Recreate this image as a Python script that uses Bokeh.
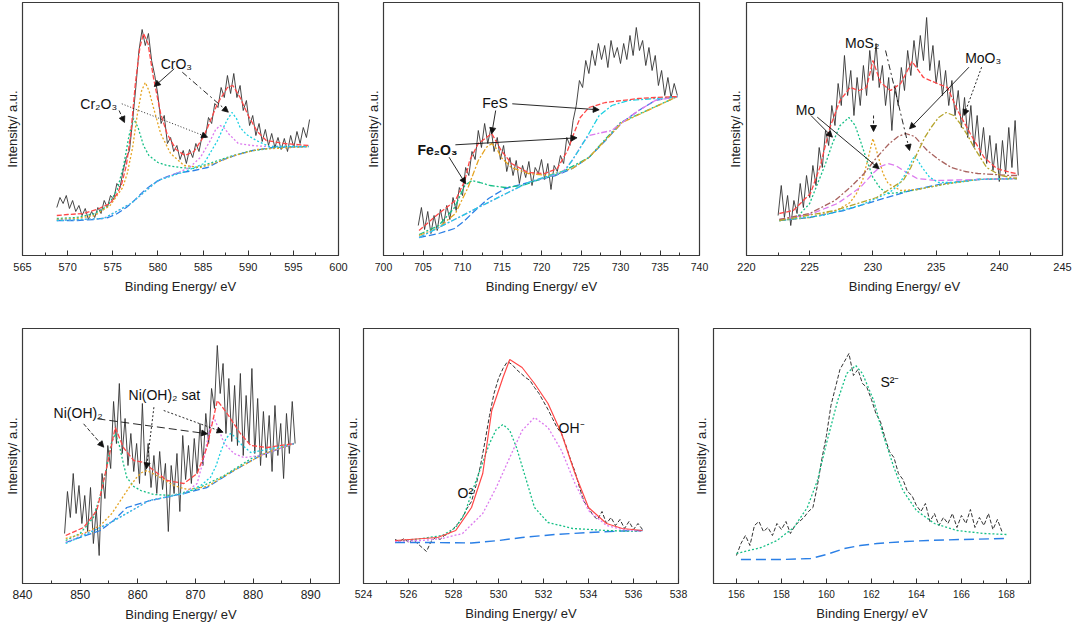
from bokeh.plotting import figure
from bokeh.layouts import row, column
from bokeh.models import Range1d, Arrow, NormalHead, FixedTicker, Label
from bokeh.embed import file_html
from bokeh.resources import INLINE

# ---------------- Cr 2p ----------------
CR_TICKS = [565, 570, 575, 580, 585, 590, 595, 600]
CR_MINOR = [567.5, 572.5, 577.5, 582.5, 587.5, 592.5, 597.5]
CR_RAW_X = [568.8, 569.15, 569.5, 569.85, 570.2, 570.55, 570.9, 571.25, 571.6, 571.95,
            572.3, 572.65, 573.0, 573.35, 573.7, 574.05, 574.4, 574.75, 575.1, 575.45,
            575.8, 576.15, 576.5, 576.85, 577.2, 577.55, 577.9, 578.25, 578.6, 578.95,
            579.3, 579.65, 580.0, 580.35, 580.7, 581.05, 581.4, 581.75, 582.1, 582.45,
            582.8, 583.15, 583.5, 583.85, 584.2, 584.55, 584.9, 585.25, 585.6, 585.95,
            586.3, 586.65, 587.0, 587.35, 587.7, 588.05, 588.4, 588.75, 589.1, 589.45,
            589.8, 590.15, 590.5, 590.85, 591.2, 591.55, 591.9, 592.25, 592.6, 592.95,
            593.3, 593.65, 594.0, 594.35, 594.7, 595.05, 595.4, 595.75, 596.1, 596.45,
            596.8]
CR_RAW_Y = [48, 58, 52, 60, 47, 55, 44, 50, 40, 47,
            36, 44, 38, 48, 42, 55, 48, 60, 56, 72,
            68, 85, 98, 105, 135, 168, 205, 226, 210, 222,
            195, 180, 160, 132, 140, 112, 118, 104, 110, 96,
            105, 92, 106, 98, 112, 104, 120, 118, 138, 132,
            152, 148, 168, 158, 180, 162, 182, 158, 170, 145,
            155, 130, 140, 120, 132, 114, 126, 110, 122, 108,
            118, 106, 117, 104, 120, 108, 124, 112, 128, 118,
            136]
CR_FIT_X = [568.8, 570, 571.8, 573.5, 574.7, 575.5, 576.0, 576.5, 577.0, 577.5, 578.0, 578.4, 578.9, 579.5, 580.3,
            581.0, 582.0, 583.0, 584.0, 585.0, 585.5, 586.6, 587.7, 588.3, 589.1, 590.0, 591.0, 592.0, 594.0, 596.7]
CR_FIT_Y = [40, 41, 42, 47, 52, 62, 72, 90, 122, 172, 208, 222, 212, 178, 142,
            122, 106, 100, 104, 118, 128, 152, 168, 170, 158, 140, 124, 115, 112, 110]
CR_BG_X = [568.8, 571, 573, 574.5, 575.5, 576.5, 577.5, 578.5, 579.5, 580.5, 582, 584, 585.5, 587, 588.5, 590.5, 592.8, 596.7]
CR_BG_Y = [35, 35, 36, 38, 42, 48, 56, 65, 72, 77, 82, 85, 88, 95, 100, 105, 108, 109]
CR_G_X = [568.8, 571, 573, 574.5, 575.5, 576.2, 576.8, 577.3, 577.8, 578.4, 579.0, 580.0, 581.0, 582.5, 584, 586, 588, 590, 593, 596.7]
CR_G_Y = [37, 38, 42, 50, 66, 90, 120, 137, 128, 110, 100, 93, 90, 88, 87, 93, 99, 104, 108, 109]
CR_Y_X = [568.8, 571, 573, 574.7, 576.1, 576.6, 577.2, 577.7, 578.2, 578.6, 579.0, 579.5, 580.3, 581.4, 582.9, 584.7, 586.5, 588.5, 591, 596.7]
CR_Y_Y = [36, 37, 40, 50, 68, 82, 108, 140, 165, 173, 165, 148, 122, 102, 90, 88, 93, 100, 106, 109]
CR_M_X = [568.8, 574, 577, 580, 582, 583.5, 584.7, 585.8, 586.4, 586.9, 587.4, 587.8, 588.9, 590.4, 592.1, 596.7]
CR_M_Y = [35, 37, 52, 75, 82, 88, 98, 115, 126, 130, 127, 122, 112, 110, 109, 109]
CR_C_X = [568.8, 574, 577, 580, 583, 585.1, 586.6, 587.2, 587.7, 588.2, 588.7, 589.1, 589.8, 590.9, 592.3, 596.7]
CR_C_Y = [35, 37, 52, 75, 84, 92, 115, 127, 136, 143, 137, 128, 121, 115, 109, 109]

# ---------------- Fe 2p ----------------
FE_TICKS = [700, 705, 710, 715, 720, 725, 730, 735, 740]
FE_MINOR = [702.5, 707.5, 712.5, 717.5, 722.5, 727.5, 732.5, 737.5]
FE_RAW_X = [704.4, 704.8, 705.2, 705.6, 706.0, 706.4, 706.8, 707.2, 707.6, 708.0,
            708.4, 708.8, 709.2, 709.6, 710.0, 710.4, 710.8, 711.2, 711.6, 712.0,
            712.4, 712.8, 713.2, 713.6, 714.0, 714.4, 714.8, 715.2, 715.6, 716.0,
            716.4, 716.8, 717.2, 717.6, 718.0, 718.4, 718.8, 719.2, 719.6, 720.0,
            720.4, 720.8, 721.2, 721.6, 722.0, 722.4, 722.8, 723.2, 723.6, 724.0,
            724.4, 724.8, 725.2, 725.6, 726.0, 726.4, 726.8, 727.2, 727.6, 728.0,
            728.4, 728.8, 729.2, 729.6, 730.0, 730.4, 730.8, 731.2, 731.6, 732.0,
            732.4, 732.8, 733.2, 733.6, 734.0, 734.4, 734.8, 735.2, 735.6, 736.0,
            736.4, 736.8, 737.2]
FE_RAW_Y = [30, 48, 26, 44, 22, 40, 25, 46, 30, 50,
            36, 58, 45, 68, 60, 88, 80, 104, 96, 125,
            108, 132, 112, 128, 104, 118, 96, 110, 84, 98,
            80, 95, 72, 90, 78, 94, 70, 88, 82, 96,
            76, 92, 66, 90, 84, 100, 92, 118, 110, 135,
            150, 175, 168, 195, 182, 205, 190, 212, 196, 210,
            188, 215, 198, 208, 192, 212, 196, 220, 200, 228,
            205, 215, 190, 208, 185, 200, 170, 185, 160, 178,
            158, 172, 160]
FE_FIT_X = [704.5, 707, 709.1, 710.3, 710.9, 712.0, 713.7, 714.9, 716.2, 718.3, 720.4, 722.0, 723.3, 724.1, 724.9,
            726.0, 728.1, 730.2, 732.3, 734.4, 737.2]
FE_FIT_Y = [25, 42, 55, 75, 95, 112, 122, 105, 92, 83, 82, 87, 105, 122, 138, 148, 153, 155, 157, 158, 159]
FE_BG_X = [704.5, 707, 709, 710.3, 711.2, 712, 713.3, 715.4, 718.4, 721.8, 723.9, 726, 728.1, 730.2, 732.3, 734.4, 737.2]
FE_BG_Y = [18, 22, 27, 35, 42, 48, 57, 67, 73, 80, 87, 98, 115, 133, 145, 155, 159]
FE_G_X = [704.5, 707, 709, 710.3, 711.2, 712.2, 713.5, 715.4, 717.6, 719.7, 722, 726, 730, 737.2]
FE_G_Y = [21, 30, 48, 70, 75, 73, 70, 68, 70, 76, 81, 98, 133, 159]
FE_Y_X = [704.5, 707, 709.1, 710.7, 712, 713, 713.7, 714.4, 714.9, 716.2, 718.3, 720.8, 723.9, 726, 730.2, 737.2]
FE_Y_Y = [20, 28, 42, 68, 95, 108, 112, 106, 98, 88, 82, 80, 87, 98, 133, 159]
FE_M_X = [704.5, 712, 718.3, 722.6, 723.9, 725.2, 726, 727.7, 728.9, 730.2, 732.3, 734.4, 737.2]
FE_M_Y = [18, 48, 73, 83, 95, 112, 120, 123, 125, 133, 145, 155, 159]
FE_C_X = [704.5, 712, 718.3, 723, 724.7, 726, 727.3, 728.9, 731, 734.4, 737.2]
FE_C_Y = [18, 48, 73, 85, 105, 122, 140, 150, 155, 157, 159]

# ---------------- Mo 3d ----------------
MO_TICKS = [220, 225, 230, 235, 240, 245]
MO_MINOR = [222.5, 227.5, 232.5, 237.5, 242.5]
MO_RAW_X = [222.5, 222.75, 223.0, 223.25, 223.5, 223.75, 224.0, 224.25, 224.5, 224.75,
            225.0, 225.25, 225.5, 225.75, 226.0, 226.25, 226.5, 226.75, 227.0, 227.25,
            227.5, 227.75, 228.0, 228.25, 228.5, 228.75, 229.0, 229.25, 229.5, 229.75,
            230.0, 230.25, 230.5, 230.75, 231.0, 231.25, 231.5, 231.75, 232.0, 232.25,
            232.5, 232.75, 233.0, 233.25, 233.5, 233.75, 234.0, 234.25, 234.5, 234.75,
            235.0, 235.25, 235.5, 235.75, 236.0, 236.25, 236.5, 236.75, 237.0, 237.25,
            237.5, 237.75, 238.0, 238.25, 238.5, 238.75, 239.0, 239.25, 239.5, 239.75,
            240.0, 240.25, 240.5, 240.75, 241.0, 241.25, 241.5]
MO_RAW_Y = [40, 70, 38, 60, 30, 55, 42, 72, 48, 80,
            58, 90, 70, 108, 88, 125, 110, 150, 130, 172,
            150, 200, 160, 185, 140, 178, 150, 190, 160, 205,
            175, 212, 168, 190, 150, 178, 125, 170, 150, 188,
            165, 205, 180, 215, 188, 220, 195, 238, 185, 210,
            172, 195, 160, 185, 150, 175, 140, 165, 128, 158,
            118, 150, 108, 140, 100, 128, 92, 120, 85, 112,
            74, 115, 82, 128, 88, 135, 80]
MO_FIT_X = [222.6, 223.7, 225.06, 225.8, 226.6, 227.4, 228.2, 228.9, 229.5, 230.0, 230.6, 231.4, 232.2, 233.1,
            234.0, 235.1, 235.9, 236.7, 237.7, 238.8, 239.8, 240.9, 241.4]
MO_FIT_Y = [42, 45, 62, 88, 128, 155, 168, 165, 168, 195, 173, 165, 172, 194, 178, 172, 168, 145, 122, 98, 87, 83, 82]
MO_BG_X = [222.6, 225, 227.7, 230.3, 233, 235.6, 238.25, 241.4]
MO_BG_Y = [35, 38, 45, 55, 65, 72, 76, 77]
MO_G_X = [222.6, 223.9, 225.0, 225.5, 226.2, 226.8, 227.4, 228.1, 228.6, 229.0, 229.5, 230.0, 230.6, 231.2, 232.2, 233.5, 236, 238.3, 241.4]
MO_G_Y = [35, 37, 52, 68, 90, 112, 130, 138, 130, 115, 96, 78, 67, 62, 63, 66, 72, 76, 77]
MO_Y_X = [222.6, 225, 227.1, 228.2, 228.7, 229.2, 229.6, 230.0, 230.4, 230.8, 231.2, 232.2, 233.5, 236, 238.3, 241.4]
MO_Y_Y = [35, 38, 45, 53, 62, 76, 96, 117, 100, 82, 72, 65, 66, 72, 76, 77]
MO_M_X = [222.6, 225, 227.2, 229.0, 230.0, 230.6, 231.2, 231.8, 232.4, 233.5, 235, 238.3, 241.4]
MO_M_Y = [36, 41, 52, 68, 82, 89, 92, 90, 85, 77, 75, 76, 77]
MO_C_X = [222.6, 226, 229, 231.3, 232.0, 232.6, 233.3, 233.9, 234.5, 235.2, 236.5, 238.3, 241.4]
MO_C_Y = [35, 40, 50, 63, 70, 82, 100, 88, 78, 73, 73, 76, 77]
MO_B_X = [222.6, 225, 227, 228.2, 229.3, 230.3, 231.3, 232.0, 232.6, 233.3, 234.3, 235.2, 236.2, 237.3, 238.3, 240.9, 241.4]
MO_B_Y = [36, 42, 55, 68, 82, 98, 112, 119, 122, 119, 105, 96, 88, 84, 82, 80, 80]
MO_O_X = [222.6, 227, 230.3, 232.4, 233.0, 233.5, 234.1, 234.6, 235.2, 235.8, 236.4, 236.9, 237.5, 238.0, 239.0, 240.1, 241.4]
MO_O_Y = [35, 45, 58, 75, 88, 102, 118, 128, 138, 143, 140, 132, 120, 108, 88, 80, 77]

# ---------------- Ni 2p ----------------
NI_TICKS = [840, 850, 860, 870, 880, 890]
NI_MINOR = [845, 855, 865, 875, 885]
NI_RAW_X = [847.3, 847.8, 848.3, 848.8, 849.3, 849.8, 850.3, 850.8, 851.3, 851.8,
            852.3, 852.8, 853.3, 853.8, 854.3, 854.8, 855.3, 855.8, 856.3, 856.8,
            857.3, 857.8, 858.3, 858.8, 859.3, 859.8, 860.3, 860.8, 861.3, 861.8,
            862.3, 862.8, 863.3, 863.8, 864.3, 864.8, 865.3, 865.8, 866.3, 866.8,
            867.3, 867.8, 868.3, 868.8, 869.3, 869.8, 870.3, 870.8, 871.3, 871.8,
            872.3, 872.8, 873.3, 873.8, 874.3, 874.8, 875.3, 875.8, 876.3, 876.8,
            877.3, 877.8, 878.3, 878.8, 879.3, 879.8, 880.3, 880.8, 881.3, 881.8,
            882.3, 882.8, 883.3, 883.8, 884.3, 884.8, 885.3, 885.8, 886.3, 886.8,
            887.3]
NI_RAW_Y = [50, 92, 66, 110, 70, 98, 60, 88, 52, 96,
            40, 75, 28, 110, 85, 138, 115, 182, 140, 200,
            130, 165, 118, 150, 112, 140, 100, 180, 108, 140,
            96, 128, 90, 132, 94, 120, 52, 118, 90, 130,
            72, 148, 104, 138, 100, 145, 110, 160, 118, 170,
            140, 195, 175, 238, 190, 220, 150, 205, 142, 198,
            138, 210, 128, 188, 140, 215, 130, 185, 118, 172,
            126, 168, 112, 178, 128, 160, 105, 170, 130, 182,
            140]
NI_FIT_X = [847.5, 850.6, 852.9, 854.6, 856.1, 857.5, 859.3, 861.0, 862.8, 865.1, 868.0, 870.3, 872.0, 873.8,
            875.5, 877.8, 879.6, 882.5, 887.1]
NI_FIT_Y = [48, 56, 73, 116, 156, 136, 123, 121, 113, 103, 100, 110, 136, 183, 170, 150, 138, 136, 140]
NI_BG_X = [847.5, 853.5, 855.8, 858.1, 862.2, 868, 872, 876.7, 881.3, 887.1]
NI_BG_Y = [41, 53, 63, 76, 83, 90, 96, 113, 128, 140]
NI_G_X = [847.5, 850, 852.3, 853.5, 854.6, 855.4, 856.1, 856.8, 857.5, 858.1, 859.3, 860.5, 862.8, 866, 870, 875, 880, 887.1]
NI_G_Y = [43, 50, 66, 88, 116, 140, 150, 138, 120, 106, 97, 93, 89, 88, 94, 108, 126, 140]
NI_Y_X = [847.5, 850.6, 853.5, 855.5, 857.0, 858.5, 859.8, 860.7, 861.6, 862.6, 863.9, 866.2, 868.6, 872, 877, 882, 887.1]
NI_Y_Y = [45, 50, 58, 70, 83, 96, 106, 111, 113, 110, 106, 98, 94, 97, 114, 130, 140]
NI_M_X = [847.5, 855, 862, 868, 870.3, 871.5, 872.5, 873.2, 874.0, 875.0, 876.7, 878.4, 881.3, 887.1]
NI_M_Y = [41, 60, 83, 90, 100, 126, 155, 166, 155, 140, 130, 126, 128, 140]
NI_C_X = [847.5, 855, 862, 868, 870.9, 872.6, 873.6, 874.4, 875.3, 876.1, 877.0, 877.8, 879.6, 882.5, 887.1]
NI_C_Y = [40, 60, 83, 90, 98, 106, 118, 132, 145, 150, 146, 140, 131, 134, 140]

# ---------------- O 1s ----------------
O_TICKS = [524, 526, 528, 530, 532, 534, 536, 538]
O_MINOR = [525, 527, 529, 531, 533, 535, 537]
O_RAW_X = [525.4, 525.6, 525.8, 526.0, 526.2, 526.4, 526.6, 526.8, 527.0, 527.2,
           527.4, 527.6, 527.8, 528.0, 528.2, 528.4, 528.6, 528.8, 529.0, 529.2,
           529.4, 529.6, 529.8, 530.0, 530.2, 530.4, 530.6, 530.8, 531.0, 531.2,
           531.4, 531.6, 531.8, 532.0, 532.2, 532.4, 532.6, 532.8, 533.0, 533.2,
           533.4, 533.6, 533.8, 534.0, 534.2, 534.4, 534.6, 534.8, 535.0, 535.2,
           535.4, 535.6, 535.8, 536.0, 536.2, 536.4]
O_RAW_Y = [44, 42, 45, 41, 44, 40, 36, 32, 42, 46,
           44, 48, 50, 55, 60, 66, 75, 82, 98, 118,
           142, 168, 190, 205, 215, 222, 219, 214, 210, 206,
           203, 196, 190, 182, 174, 165, 156, 150, 138, 124,
           112, 96, 82, 76, 68, 64, 72, 60, 66, 58,
           64, 55, 62, 54, 60, 54]
O_FIT_X = [525.4, 527.3, 528.1, 528.8, 529.3, 529.7, 530.2, 530.5, 531.05, 531.6, 532.2, 532.8, 533.4, 534.0, 534.8, 535.5, 536.4]
O_FIT_Y = [43, 46, 53, 76, 110, 173, 206, 224, 216, 200, 180, 150, 110, 76, 60, 55, 53]
O_BG_X = [525.4, 527, 528.8, 530, 531.05, 532.5, 534, 535.5, 536.4]
O_BG_Y = [41, 41, 40.5, 43, 46, 49, 51, 52.5, 53]
O_G_X = [525.4, 526.6, 527.5, 528.1, 528.5, 528.8, 529.2, 529.6, 529.9, 530.2, 530.5, 530.8, 531.2, 531.6, 532.2, 533.3, 534.8, 536.4]
O_G_Y = [42, 45, 48, 56, 70, 90, 115, 140, 154, 159, 153, 136, 106, 76, 61, 55, 53, 52]
O_M_X = [525.4, 526.6, 527.5, 528.4, 529.3, 529.9, 530.5, 531.05, 531.6, 532.2, 532.8, 533.4, 534.0, 534.8, 535.5, 536.4]
O_M_Y = [42, 43, 45, 50, 70, 96, 126, 153, 166, 156, 133, 100, 73, 58, 54, 52]

# ---------------- S 2p ----------------
S_TICKS = [156, 158, 160, 162, 164, 166, 168]
S_MINOR = [155, 157, 159, 161, 163, 165, 167, 169]
S_RAW_X = [156.0, 156.2, 156.4, 156.6, 156.8, 157.0, 157.2, 157.4, 157.6, 157.8,
           158.0, 158.2, 158.4, 158.6, 158.8, 159.0, 159.2, 159.4, 159.6, 159.8,
           160.0, 160.2, 160.4, 160.6, 160.8, 161.0, 161.2, 161.4, 161.6, 161.8,
           162.0, 162.2, 162.4, 162.6, 162.8, 163.0, 163.2, 163.4, 163.6, 163.8,
           164.0, 164.2, 164.4, 164.6, 164.8, 165.0, 165.2, 165.4, 165.6, 165.8,
           166.0, 166.2, 166.4, 166.6, 166.8, 167.0, 167.2, 167.4, 167.6, 167.8]
S_RAW_Y = [28, 40, 48, 38, 58, 62, 52, 56, 48, 60,
           54, 62, 50, 58, 62, 66, 72, 76, 98, 125,
           148, 178, 196, 214, 222, 230, 208, 214, 200, 196,
           184, 170, 162, 146, 132, 126, 110, 104, 92, 88,
           78, 72, 80, 62, 70, 58, 66, 60, 70, 56,
           68, 60, 74, 56, 66, 58, 70, 54, 64, 52]
S_FIT_X = [156.0, 157.1, 157.8, 158.55, 159.15, 159.6, 160.0, 160.5, 160.9, 161.3, 161.6, 162.1, 162.5, 163.0,
           163.4, 164.0, 164.8, 165.8, 167.0, 168.0]
S_FIT_Y = [30, 36, 43, 56, 76, 103, 140, 183, 210, 218, 210, 183, 150, 116, 93, 73, 60, 53, 50, 49]
S_BG_X = [156.2, 158, 159.3, 160.0, 160.8, 161.5, 162.25, 163.5, 164.5, 166, 168]
S_BG_Y = [24, 24, 25, 29, 35, 38, 40, 42, 43, 44, 45]

# ---------------- styling ----------------
FONT = "Liberation Sans"
INK = "#222222"
RED = "#ff4747"
GREEN = "#16bf86"
ORANGE = "#e5a422"
MAGENTA = "#dc7aee"
CYAN = "#1cd0e2"
BLUE = "#2a7fe6"
BROWN = "#a8625e"
OLIVE = "#b5a42c"
RAWC = "#333333"

RAW_SOLID = "solid"
FIT_DASH = "5 2"
COMP_DASH = "2 2"
BG_DASH = "7 3"


def make_panel(xr, yr, ticks, minors, fw, fh, borders, tick_px, ylab_standoff, xstand,
               curves, labels, arrows):
    bl, br, bt, bb = borders
    p = figure(frame_width=fw, frame_height=fh,
               x_range=Range1d(*xr), y_range=Range1d(*yr),
               output_backend="svg", toolbar_location=None,
               min_border_left=bl, min_border_right=br,
               min_border_top=bt, min_border_bottom=bb,
               background_fill_color="white", border_fill_color="white")
    p.grid.visible = False
    p.outline_line_color = "#3a3a3a"
    p.outline_line_width = 1.2

    xa = p.xaxis[0]
    xa.ticker = FixedTicker(ticks=ticks, minor_ticks=minors)
    xa.major_tick_in = 5
    xa.major_tick_out = 0
    xa.minor_tick_in = 3
    xa.minor_tick_out = 0
    xa.major_tick_line_color = "#333333"
    xa.minor_tick_line_color = "#333333"
    xa.axis_line_color = "#3a3a3a"
    xa.major_label_standoff = xstand[0]
    xa.major_label_text_font = FONT
    xa.major_label_text_font_size = tick_px
    xa.major_label_text_color = INK
    xa.axis_label = "Binding Energy/ eV"
    xa.axis_label_standoff = xstand[1]
    xa.axis_label_text_font = FONT
    xa.axis_label_text_font_size = "13px"
    xa.axis_label_text_font_style = "normal"
    xa.axis_label_text_color = INK

    ya = p.yaxis[0]
    ya.ticker = FixedTicker(ticks=[])
    ya.major_tick_in = 0
    ya.major_tick_out = 0
    ya.minor_tick_in = 0
    ya.minor_tick_out = 0
    ya.major_label_standoff = 0
    ya.axis_line_color = "#3a3a3a"
    ya.axis_label = "Intensity/ a.u."
    ya.axis_label_standoff = ylab_standoff
    ya.axis_label_text_font = FONT
    ya.axis_label_text_font_size = "13px"
    ya.axis_label_text_font_style = "normal"
    ya.axis_label_text_color = INK

    for xs, ys, color, dash, w in curves:
        p.line(xs, ys, line_color=color, line_dash=dash, line_width=w)

    for text, x, y, bold in labels:
        p.add_layout(Label(x=x, y=y, text=text, text_font=FONT, text_font_size="14px",
                           text_baseline="middle", text_align="left",
                           text_font_style="bold" if bold else "normal",
                           text_color="#111111"))

    for x0, y0, x1, y1, dash in arrows:
        p.add_layout(Arrow(end=NormalHead(size=6, fill_color="#111111", line_color="#111111",
                                          line_width=0.8),
                           x_start=x0, y_start=y0, x_end=x1, y_end=y1,
                           line_color="#111111", line_width=0.9, line_dash=dash))
    return p


TOP = (7, 5)
BOT = (6, 5)

p1 = make_panel((565, 600), (0, 253), CR_TICKS, CR_MINOR, 316, 253, (22, 15, 2, 45), "11px", 3, TOP,
                [(CR_RAW_X, CR_RAW_Y, RAWC, RAW_SOLID, 0.9),
                 (CR_BG_X, CR_BG_Y, BLUE, BG_DASH, 1.3),
                 (CR_G_X, CR_G_Y, GREEN, COMP_DASH, 1.3),
                 (CR_Y_X, CR_Y_Y, ORANGE, COMP_DASH, 1.3),
                 (CR_M_X, CR_M_Y, MAGENTA, COMP_DASH, 1.3),
                 (CR_C_X, CR_C_Y, CYAN, COMP_DASH, 1.3),
                 (CR_FIT_X, CR_FIT_Y, RED, FIT_DASH, 1.3)],
                [("CrO₃", 580.3, 192, False), ("Cr₂O₃", 571.4, 152, False)],
                [(581.8, 186.7, 579.6, 169, "solid"),
                 (582.7, 183.3, 587.8, 143.3, "6 3 2 3"),
                 (575.7, 145, 576.3, 133, "4 2"),
                 (576.0, 151.7, 585.5, 118.3, "1 2")])

p2 = make_panel((700, 740), (0, 253), FE_TICKS, FE_MINOR, 316, 253, (30, 12, 2, 45), "10.5px", 3, TOP,
                [(FE_RAW_X, FE_RAW_Y, RAWC, RAW_SOLID, 0.9),
                 (FE_BG_X, FE_BG_Y, BLUE, BG_DASH, 1.3),
                 (FE_G_X, FE_G_Y, GREEN, "6 2 2 2", 1.3),
                 (FE_Y_X, FE_Y_Y, ORANGE, "6 2 2 2", 1.3),
                 (FE_M_X, FE_M_Y, MAGENTA, "6 2 2 2", 1.3),
                 (FE_C_X, FE_C_Y, CYAN, "6 2 2 2", 1.3),
                 (FE_FIT_X, FE_FIT_Y, RED, FIT_DASH, 1.3)],
                [("FeS", 712.5, 153, False), ("Fe₂O₃", 704.3, 106, True)],
                [(714.2, 145, 713.7, 121.7, "solid"),
                 (716.3, 151.7, 727.3, 145.7, "solid"),
                 (708.3, 98.3, 710.4, 71.7, "solid"),
                 (709.1, 110.7, 724.5, 117.7, "solid")])

p3 = make_panel((220, 245), (0, 253), MO_TICKS, MO_MINOR, 316, 253, (35, 10, 2, 45), "11px", 4, TOP,
                [(MO_RAW_X, MO_RAW_Y, RAWC, RAW_SOLID, 0.9),
                 (MO_BG_X, MO_BG_Y, BLUE, BG_DASH, 1.3),
                 (MO_G_X, MO_G_Y, GREEN, COMP_DASH, 1.3),
                 (MO_Y_X, MO_Y_Y, ORANGE, COMP_DASH, 1.3),
                 (MO_M_X, MO_M_Y, MAGENTA, "6 3", 1.3),
                 (MO_C_X, MO_C_Y, CYAN, COMP_DASH, 1.3),
                 (MO_B_X, MO_B_Y, BROWN, "6 2 2 2", 1.3),
                 (MO_O_X, MO_O_Y, OLIVE, "6 2 2 2", 1.3),
                 (MO_FIT_X, MO_FIT_Y, RED, FIT_DASH, 1.3)],
                [("MoS₂", 227.8, 213, False), ("MoO₃", 237.3, 198, False), ("Mo", 223.9, 146, False)],
                [(230.05, 140, 230.05, 124, "3 2"),
                 (231.0, 205, 232.9, 105, "6 3 2 3"),
                 (237.6, 188.3, 232.9, 126.7, "solid"),
                 (238.6, 188.3, 237.2, 140, "2 2"),
                 (225.1, 140, 226.8, 118.3, "solid"),
                 (225.6, 138.3, 230.5, 86.7, "solid")])

p4 = make_panel((840, 895), (0, 255), NI_TICKS, NI_MINOR, 317, 255, (22, 1, 28, 40), "12px", 3, BOT,
                [(NI_RAW_X, NI_RAW_Y, RAWC, RAW_SOLID, 0.9),
                 (NI_BG_X, NI_BG_Y, BLUE, BG_DASH, 1.3),
                 (NI_G_X, NI_G_Y, GREEN, COMP_DASH, 1.3),
                 (NI_Y_X, NI_Y_Y, ORANGE, COMP_DASH, 1.3),
                 (NI_M_X, NI_M_Y, MAGENTA, COMP_DASH, 1.3),
                 (NI_C_X, NI_C_Y, CYAN, COMP_DASH, 1.3),
                 (NI_FIT_X, NI_FIT_Y, RED, FIT_DASH, 1.3)],
                [("Ni(OH)₂", 845.4, 171, False), ("Ni(OH)₂ sat", 858.4, 189, False)],
                [(850.6, 159.7, 854.1, 136.3, "4 2"),
                 (853.0, 164.7, 872.1, 149.7, "8 4"),
                 (862.8, 176.3, 861.5, 114.7, "2 2"),
                 (864.5, 173, 874.8, 151.3, "2 2")])

p5 = make_panel((524, 538), (0, 255), O_TICKS, O_MINOR, 315, 255, (23, 10, 28, 40), "10.5px", 4, BOT,
                [(O_RAW_X, O_RAW_Y, RAWC, "4 2", 1.0),
                 (O_BG_X, O_BG_Y, BLUE, "10 5", 1.4),
                 (O_G_X, O_G_Y, GREEN, COMP_DASH, 1.3),
                 (O_M_X, O_M_Y, MAGENTA, COMP_DASH, 1.3),
                 (O_FIT_X, O_FIT_Y, RED, "solid", 1.2)],
                [("OH⁻", 532.67, 156, False), ("O²", 528.18, 91, False)],
                [])

p6 = make_panel((154.98, 169.07), (0, 255), S_TICKS, S_MINOR, 317, 255, (25, 10, 28, 40), "10px", 5, BOT,
                [(S_RAW_X, S_RAW_Y, RAWC, "4 2", 1.0),
                 (S_BG_X, S_BG_Y, BLUE, "10 5", 1.4),
                 (S_FIT_X, S_FIT_Y, GREEN, COMP_DASH, 1.3)],
                [("S²⁻", 162.4, 202, False)],
                [])

layout = column(row(p1, p2, p3, spacing=0), row(p4, p5, p6, spacing=0), spacing=0)

with open("out.html", "w") as f:
    f.write(file_html(layout, INLINE))
